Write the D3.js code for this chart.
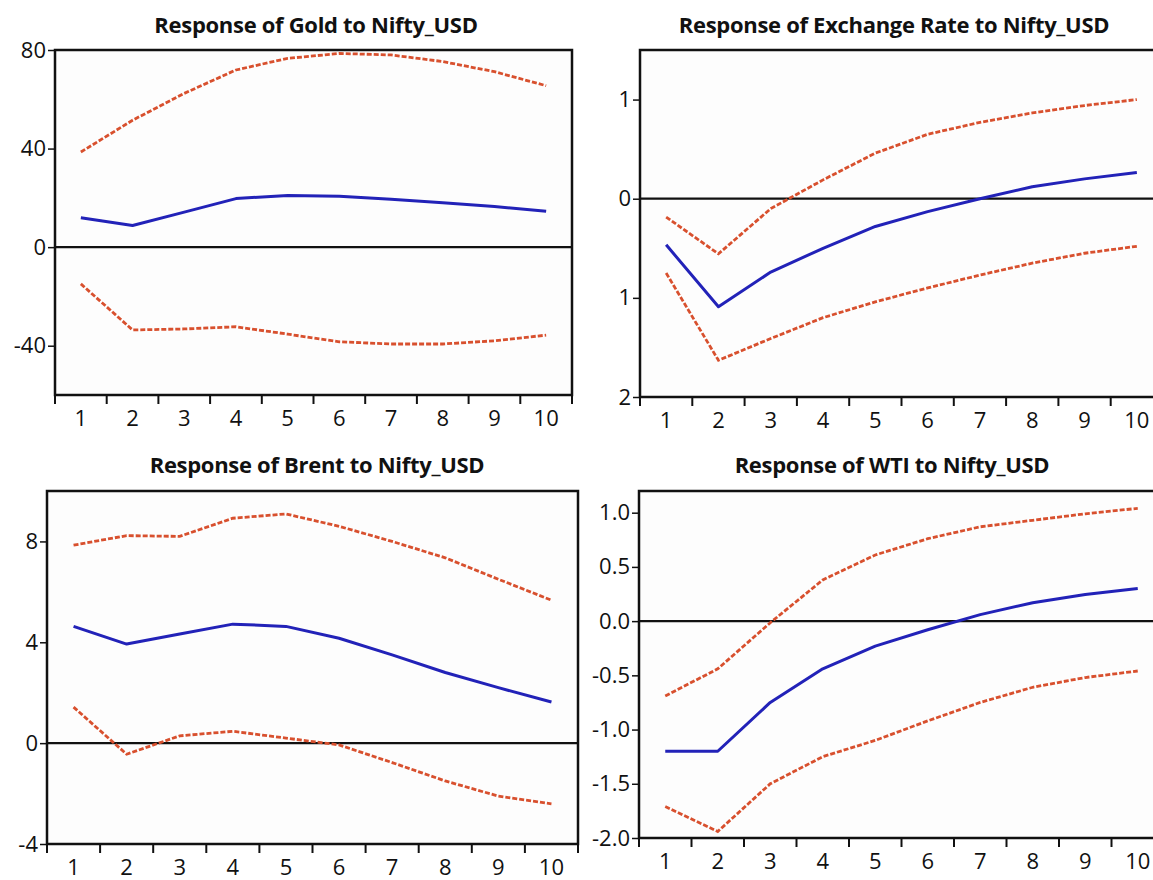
<!DOCTYPE html>
<html>
<head>
<meta charset="utf-8">
<script src="https://cdn.jsdelivr.net/npm/d3@7/dist/d3.min.js"></script>
<style>
  html, body { margin: 0; padding: 0; background: #ffffff; }
  svg { display: block; }
  .tick text { font-family: "Open Sans", "Noto Sans", sans-serif; }
</style>
</head>
<body>
<svg id="chart" width="1153" height="880"></svg>
<script>
// ---- data ----
const steps = ["1", "2", "3", "4", "5", "6", "7", "8", "9", "10"];
const titles = [
  "Response of Gold to Nifty_USD",
  "Response of Exchange Rate to Nifty_USD",
  "Response of Brent to Nifty_USD",
  "Response of WTI to Nifty_USD"
];

const goldMean  = [11.9, 8.8, 14.2, 19.7, 21.0, 20.7, 19.4, 18.0, 16.5, 14.6];
const goldUpper = [38.6, 51.5, 62.4, 71.9, 76.6, 78.6, 78.0, 75.3, 71.2, 65.5];
const goldLower = [-14.9, -33.6, -33.2, -32.3, -35.3, -38.4, -39.3, -39.3, -38.0, -35.7];
const goldTicks = [80, 40, 0, -40];
const goldTickLabels = ["80", "40", "0", "-40"];

const fxMean  = [-0.465, -1.09, -0.74, -0.50, -0.28, -0.13, 0.0, 0.12, 0.20, 0.265];
const fxUpper = [-0.185, -0.556, -0.10, 0.19, 0.46, 0.65, 0.77, 0.865, 0.94, 1.0];
const fxLower = [-0.75, -1.63, -1.41, -1.20, -1.04, -0.90, -0.77, -0.65, -0.55, -0.48];
const fxTicks = [1, 0, -1, -2];
const fxTickLabels = ["1", "0", "1", "2"];

const brentMean  = [4.63, 3.93, 4.33, 4.72, 4.63, 4.16, 3.50, 2.80, 2.20, 1.63];
const brentUpper = [7.85, 8.23, 8.20, 8.92, 9.09, 8.60, 8.00, 7.35, 6.50, 5.67];
const brentLower = [1.43, -0.44, 0.29, 0.47, 0.20, -0.07, -0.77, -1.50, -2.10, -2.41];
const brentTicks = [8, 4, 0, -4];
const brentTickLabels = ["8", "4", "0", "-4"];

const wtiMean  = [-1.20, -1.20, -0.75, -0.44, -0.23, -0.08, 0.06, 0.17, 0.245, 0.30];
const wtiUpper = [-0.69, -0.44, -0.015, 0.38, 0.61, 0.76, 0.87, 0.93, 0.99, 1.04];
const wtiLower = [-1.71, -1.94, -1.50, -1.25, -1.10, -0.92, -0.75, -0.61, -0.52, -0.46];
const wtiTicks = [1.0, 0.5, 0.0, -0.5, -1.0, -1.5, -2.0];
const wtiTickLabels = ["1.0", "0.5", "0.0", "-0.5", "-1.0", "-1.5", "-2.0"];

// ---- panel configuration (built from the arrays above) ----
const panels = [
  { title: titles[0], mean: goldMean, upper: goldUpper, lower: goldLower,
    ticks: goldTicks, labels: goldTickLabels, domain: [-60, 80],
    x0: 55, x1: 572, y0: 50, y1: 395, titleX: 316, titleY: 33 },
  { title: titles[1], mean: fxMean, upper: fxUpper, lower: fxLower,
    ticks: fxTicks, labels: fxTickLabels, domain: [-2, 1.5],
    x0: 640, x1: 1163, y0: 50, y1: 397, titleX: 894, titleY: 33 },
  { title: titles[2], mean: brentMean, upper: brentUpper, lower: brentLower,
    ticks: brentTicks, labels: brentTickLabels, domain: [-4, 10],
    x0: 47, x1: 578, y0: 491, y1: 844, titleX: 317, titleY: 473 },
  { title: titles[3], mean: wtiMean, upper: wtiUpper, lower: wtiLower,
    ticks: wtiTicks, labels: wtiTickLabels, domain: [-2, 1.2],
    x0: 639, x1: 1164, y0: 491, y1: 838, titleX: 892, titleY: 473 }
];

const svg = d3.select("#chart");
const BLUE = "#2222b8";
const RED = "#d8502e";
const FONT = "'Open Sans', 'Noto Sans', sans-serif";

panels.forEach(p => {
  const g = svg.append("g");
  const x = d3.scaleBand().domain(steps).range([p.x0, p.x1]);
  const y = d3.scaleLinear().domain(p.domain).range([p.y1, p.y0]);
  const cx = d => x(d) + x.bandwidth() / 2;

  // plot background
  g.append("rect")
    .attr("x", p.x0).attr("y", p.y0)
    .attr("width", p.x1 - p.x0).attr("height", p.y1 - p.y0)
    .attr("fill", "#fdfdfd");

  // title
  g.append("text")
    .attr("x", p.titleX).attr("y", p.titleY)
    .attr("text-anchor", "middle")
    .attr("font-family", FONT)
    .attr("font-weight", "bold")
    .attr("font-size", 22)
    .attr("letter-spacing", -0.3)
    .attr("fill", "#111")
    .text(p.title);

  // y axis
  const yAxis = d3.axisLeft(y)
    .tickValues(p.ticks)
    .tickFormat((d, i) => p.labels[i])
    .tickSize(7)
    .tickPadding(2);
  const ya = g.append("g").attr("transform", `translate(${p.x0},0)`).call(yAxis);
  ya.select(".domain").remove();
  ya.selectAll(".tick line").attr("stroke", "#111").attr("stroke-width", 1.5);
  ya.selectAll(".tick text").attr("font-size", 22).attr("fill", "#111");

  // x axis: ticks at band boundaries, labels at band centres
  const boundaries = steps.map(s => x(s)).concat([p.x1]);
  g.selectAll(".xtick").data(boundaries).enter().append("line")
    .attr("x1", d => d).attr("x2", d => d)
    .attr("y1", p.y1).attr("y2", p.y1 + 9)
    .attr("stroke", "#111").attr("stroke-width", 2);
  g.selectAll(".xlab").data(steps).enter().append("text")
    .attr("x", d => cx(d))
    .attr("y", p.y1 + 31)
    .attr("text-anchor", "middle")
    .attr("font-family", FONT)
    .attr("font-size", 22)
    .attr("fill", "#111")
    .text(d => d);

  // zero line
  g.append("line")
    .attr("x1", p.x0).attr("x2", p.x1)
    .attr("y1", y(0)).attr("y2", y(0))
    .attr("stroke", "#111").attr("stroke-width", 2.2);

  const line = d3.line()
    .x((d, i) => cx(steps[i]))
    .y(d => y(d));

  g.append("path").datum(p.upper)
    .attr("d", line).attr("fill", "none")
    .attr("stroke", RED).attr("stroke-width", 2.8)
    .attr("stroke-dasharray", "5,2");
  g.append("path").datum(p.lower)
    .attr("d", line).attr("fill", "none")
    .attr("stroke", RED).attr("stroke-width", 2.8)
    .attr("stroke-dasharray", "5,2");
  g.append("path").datum(p.mean)
    .attr("d", line).attr("fill", "none")
    .attr("stroke", BLUE).attr("stroke-width", 3)
    .attr("stroke-linejoin", "round");

  // frame
  g.append("rect")
    .attr("x", p.x0).attr("y", p.y0)
    .attr("width", p.x1 - p.x0).attr("height", p.y1 - p.y0)
    .attr("fill", "none")
    .attr("stroke", "#111").attr("stroke-width", 2.5);
});
</script>
</body>
</html>
